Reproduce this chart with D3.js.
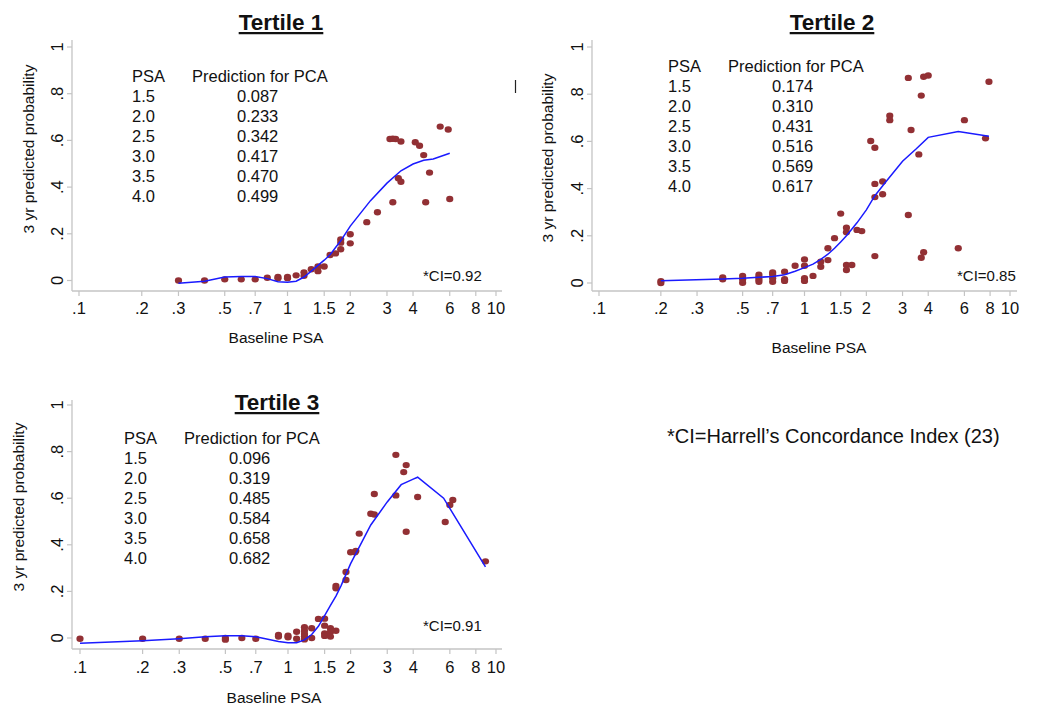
<!DOCTYPE html>
<html><head><meta charset="utf-8">
<script src="https://cdn.jsdelivr.net/npm/d3@7/dist/d3.min.js"></script>
<style>body{margin:0;background:#fff}svg{display:block;font-family:"Liberation Sans",Arial,sans-serif}</style>
</head><body><svg id="c" width="1050" height="715"></svg>
<script>
// ---- data ----
const xTicks = [0.1,0.2,0.3,0.5,0.7,1,1.5,2,3,4,6,8,10];
const xTickLabels = [".1",".2",".3",".5",".7","1","1.5","2","3","4","6","8","10"];
const yTicks = [0,0.2,0.4,0.6,0.8,1];
const yTickLabels = ["0",".2",".4",".6",".8","1"];
const tablePSA = ["1.5","2.0","2.5","3.0","3.5","4.0"];

const t1Pred = ["0.087","0.233","0.342","0.417","0.470","0.499"];
const t2Pred = ["0.174","0.310","0.431","0.516","0.569","0.617"];
const t3Pred = ["0.096","0.319","0.485","0.584","0.658","0.682"];

const t1PtX = [0.3,0.4,0.5,0.6,0.7,0.8,0.9,0.9,1.0,1.0,1.1,1.2,1.2,1.3,1.4,1.4,1.5,1.6,1.7,1.8,1.8,1.8,2.0,2.0,2.4,2.7,3.1,3.2,3.3,3.5,3.2,3.4,3.5,4.1,4.3,4.5,4.6,4.8,5.4,5.9,6.0];
const t1PtY = [0.0,0.0,0.005,0.005,0.005,0.012,0.015,0.01,0.015,0.01,0.022,0.035,0.02,0.048,0.06,0.04,0.06,0.109,0.116,0.176,0.162,0.134,0.198,0.159,0.25,0.292,0.606,0.607,0.606,0.595,0.335,0.438,0.423,0.592,0.577,0.537,0.335,0.462,0.659,0.647,0.349];
const t1LineX = [0.3,0.4,0.5,0.6,0.7,0.8,0.9,1.0,1.1,1.2,1.3,1.4,1.5,1.6,1.8,2.0,2.5,3.0,3.5,4.0,4.5,5.0,6.0];
const t1LineY = [-0.012,-0.003,0.015,0.017,0.017,0.008,-0.005,-0.007,-0.003,0.015,0.04,0.065,0.087,0.11,0.17,0.233,0.342,0.417,0.47,0.499,0.515,0.52,0.545];

const t2PtX = [0.2,0.2,0.4,0.4,0.5,0.5,0.5,0.6,0.6,0.6,0.6,0.7,0.7,0.7,0.7,0.8,0.8,0.8,0.9,1.0,1.0,1.0,1.0,1.1,1.2,1.2,1.3,1.3,1.4,1.5,1.6,1.6,1.6,1.6,1.7,1.8,1.9,2.1,2.2,2.2,2.2,2.2,2.4,2.4,2.6,2.6,3.2,3.2,3.3,3.6,3.7,3.7,3.8,3.8,4.0,5.6,6.0,7.6,7.9];
const t2PtY = [0.008,0.0,0.023,0.016,0.03,0.016,0.001,0.035,0.025,0.015,0.005,0.045,0.035,0.02,0.005,0.048,0.016,0.009,0.073,0.1,0.073,0.02,0.009,0.03,0.09,0.069,0.147,0.097,0.19,0.294,0.234,0.215,0.076,0.055,0.076,0.225,0.22,0.602,0.573,0.42,0.364,0.114,0.43,0.376,0.709,0.69,0.869,0.288,0.648,0.545,0.794,0.107,0.874,0.13,0.879,0.147,0.69,0.613,0.853];
const t2LineX = [0.2,0.4,0.5,0.6,0.7,0.8,0.9,1.0,1.1,1.2,1.3,1.4,1.5,1.6,1.8,2.0,2.2,2.5,3.0,3.5,4.0,5.6,7.9];
const t2LineY = [0.01,0.017,0.02,0.024,0.028,0.035,0.05,0.065,0.08,0.1,0.122,0.147,0.174,0.2,0.255,0.31,0.37,0.431,0.516,0.569,0.617,0.642,0.622];

const t3PtX = [0.1,0.2,0.3,0.4,0.5,0.5,0.6,0.7,0.9,0.9,1.0,1.0,1.1,1.1,1.2,1.2,1.2,1.2,1.2,1.3,1.3,1.4,1.5,1.5,1.5,1.5,1.6,1.6,1.6,1.7,1.7,1.7,1.9,1.9,2.0,2.1,2.12,2.2,2.5,2.6,2.6,3.3,3.3,3.6,3.7,3.7,4.2,5.7,6.0,6.2,8.9];
const t3PtY = [-0.003,-0.003,-0.003,-0.003,0.0,-0.007,0.0,-0.003,0.013,0.006,0.01,0.003,0.027,-0.003,0.046,0.031,0.017,0.006,-0.006,0.042,0.0,0.082,0.083,0.053,0.02,0.009,0.042,0.026,0.006,0.223,0.213,0.031,0.283,0.249,0.368,0.368,0.374,0.448,0.533,0.618,0.53,0.786,0.612,0.712,0.742,0.456,0.605,0.498,0.571,0.592,0.329];
const t3LineX = [0.1,0.2,0.3,0.4,0.5,0.6,0.7,0.8,0.9,1.0,1.1,1.2,1.3,1.4,1.5,1.6,1.7,1.8,2.0,2.5,3.0,3.5,4.0,4.2,5.6,8.9];
const t3LineY = [-0.022,-0.012,-0.003,0.005,0.01,0.01,0.005,-0.005,-0.015,-0.02,-0.02,-0.008,0.015,0.05,0.096,0.14,0.18,0.225,0.319,0.485,0.584,0.658,0.682,0.69,0.6,0.305];

const panels = [
  {title:"Tertile 1", ci:"*CI=0.92", pred:t1Pred, px:t1PtX, py:t1PtY, lx:t1LineX, ly:t1LineY,
   xr:[79,496], yr:[280.5,47], axX:[72,502], axY:[40,291],
   titleX:281, titleY:30, ytX:28.5, ytY:149, ylabX:57, xlabY:308, xtX:276, xtY:337,
   tabX:132, tabCol:192, valX:237, tabY:82, ciX:423, ciY:281},
  {title:"Tertile 2", ci:"*CI=0.85", pred:t2Pred, px:t2PtX, py:t2PtY, lx:t2LineX, ly:t2LineY,
   xr:[599,1010], yr:[283,47], axX:[592,1017], axY:[40,291],
   titleX:832, titleY:30, ytX:547, ytY:158, ylabX:577, xlabY:308, xtX:819, xtY:347,
   tabX:668, tabCol:728, valX:772, tabY:72, ciX:957, ciY:281},
  {title:"Tertile 3", ci:"*CI=0.91", pred:t3Pred, px:t3PtX, py:t3PtY, lx:t3LineX, ly:t3LineY,
   xr:[80,496], yr:[638,405], axX:[72,502], axY:[400,649],
   titleX:277, titleY:410, ytX:18, ytY:507, ylabX:57, xlabY:667, xtX:274, xtY:697,
   tabX:124, tabCol:184, valX:229, tabY:444, ciX:423, ciY:631}
];

const svg = d3.select("#c");
const axisCol = "#c4c4c4", dotCol = "#923034", lineCol = "#1a1aff", txt = "#111";

panels.forEach(p => {
  const x = d3.scaleLog().domain([0.1,10]).range(p.xr);
  const y = d3.scaleLinear().domain([0,1]).range(p.yr);
  const g = svg.append("g");

  g.append("line").attr("x1",p.axX[0]).attr("x2",p.axX[1]).attr("y1",p.axY[1]).attr("y2",p.axY[1]).attr("stroke",axisCol).attr("stroke-width",1.3);
  g.append("line").attr("x1",p.axX[0]).attr("x2",p.axX[0]).attr("y1",p.axY[0]).attr("y2",p.axY[1]).attr("stroke",axisCol).attr("stroke-width",1.3);

  xTicks.forEach((t,i) => {
    g.append("line").attr("x1",x(t)).attr("x2",x(t)).attr("y1",p.axY[1]).attr("y2",p.axY[1]+5).attr("stroke",axisCol).attr("stroke-width",1.2);
    g.append("text").attr("x",x(t)).attr("y",p.xlabY).attr("text-anchor","middle").attr("dominant-baseline","central")
      .attr("font-size",16.5).attr("fill",txt).text(xTickLabels[i]);
  });
  yTicks.forEach((t,i) => {
    g.append("line").attr("x1",p.axX[0]-5).attr("x2",p.axX[0]).attr("y1",y(t)).attr("y2",y(t)).attr("stroke",axisCol).attr("stroke-width",1.2);
    g.append("text").attr("transform",`translate(${p.ylabX},${y(t)}) rotate(-90)`).attr("text-anchor","middle").attr("dominant-baseline","central")
      .attr("font-size",16.5).attr("fill",txt).text(yTickLabels[i]);
  });

  g.append("text").attr("x",p.titleX).attr("y",p.titleY).attr("text-anchor","middle").attr("font-size",22.5).attr("font-weight","bold")
    .attr("fill",txt).attr("text-decoration","underline").text(p.title);
  g.append("text").attr("transform",`translate(${p.ytX},${p.ytY}) rotate(-90)`).attr("text-anchor","middle").attr("dominant-baseline","central")
    .attr("font-size",15.5).attr("fill",txt).text("3 yr predicted probability");
  g.append("text").attr("x",p.xtX).attr("y",p.xtY).attr("text-anchor","middle").attr("dominant-baseline","central")
    .attr("font-size",15.5).attr("fill",txt).text("Baseline PSA");

  g.append("text").attr("x",p.tabX).attr("y",p.tabY).attr("font-size",16.5).attr("fill",txt).text("PSA");
  g.append("text").attr("x",p.tabCol).attr("y",p.tabY).attr("font-size",16.5).attr("fill",txt).text("Prediction for PCA");
  tablePSA.forEach((v,i) => {
    g.append("text").attr("x",p.tabX).attr("y",p.tabY+20*(i+1)).attr("font-size",16.5).attr("fill",txt).text(v);
    g.append("text").attr("x",p.valX).attr("y",p.tabY+20*(i+1)).attr("font-size",16.5).attr("fill",txt).text(p.pred[i]);
  });
  g.append("text").attr("x",p.ciX).attr("y",p.ciY).attr("font-size",15).attr("fill",txt).text(p.ci);

  const pts = p.px.map((v,i)=>[v,p.py[i]]);
  g.selectAll("ellipse").data(pts).enter().append("ellipse")
    .attr("cx",d=>x(d[0])).attr("cy",d=>y(d[1])).attr("rx",3.6).attr("ry",3.2).attr("fill",dotCol);

  const ln = p.lx.map((v,i)=>[v,p.ly[i]]);
  g.append("path").datum(ln).attr("fill","none").attr("stroke",lineCol).attr("stroke-width",1.5)
    .attr("d",d3.line().x(d=>x(d[0])).y(d=>y(d[1])));
});

svg.append("line").attr("x1",515.5).attr("x2",515.5).attr("y1",80).attr("y2",93).attr("stroke","#222").attr("stroke-width",1.2);
svg.append("text").attr("x",667).attr("y",443).attr("font-size",20).attr("fill",txt).text("*CI=Harrell\u2019s Concordance Index (23)");
</script></body></html>
